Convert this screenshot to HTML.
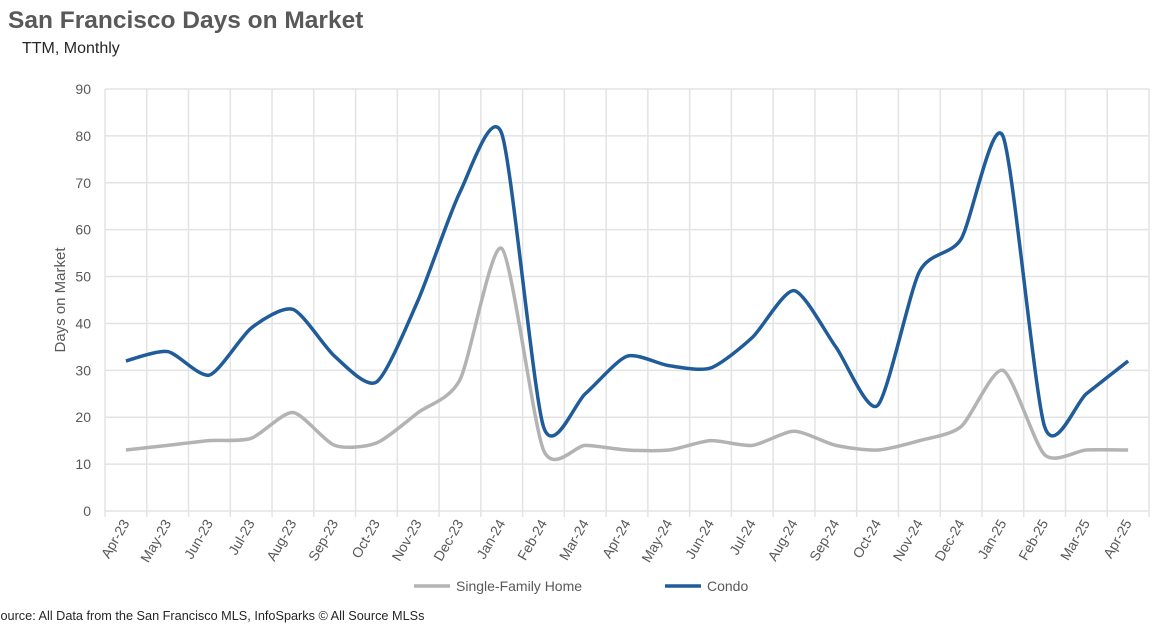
<!DOCTYPE html>
<html><head><meta charset="utf-8"><style>
body{margin:0;background:#fff;width:1170px;height:630px;overflow:hidden;font-family:"Liberation Sans",sans-serif}
</style></head><body>
<svg width="1170" height="630" viewBox="0 0 1170 630">
<text x="8" y="28" font-size="24.5" font-weight="bold" fill="#595959">San Francisco Days on Market</text>
<text x="22" y="53" font-size="16" fill="#262626">TTM, Monthly</text>
<g id="grid"></g>
<g id="yt"></g>
<g id="xt"></g>
<text transform="translate(65,300) rotate(-90)" text-anchor="middle" font-size="15" fill="#595959">Days on Market</text>
<g id="series"></g>
<g>
<g><line x1="414" y1="586" x2="450" y2="586" stroke="#b3b3b3" stroke-width="3.5"/><text x="456" y="591" font-size="14" fill="#595959">Single-Family Home</text></g>
<g><line x1="665" y1="586" x2="701" y2="586" stroke="#1f5c99" stroke-width="3.5"/><text x="707" y="591" font-size="14" fill="#595959">Condo</text></g>
</g>
<text x="-8" y="620" font-size="12.7" fill="#262626">Source: All Data from the San Francisco MLS, InfoSparks © All Source MLSs</text>
</svg>
<script>
const categories=["Apr-23","May-23","Jun-23","Jul-23","Aug-23","Sep-23","Oct-23","Nov-23","Dec-23","Jan-24","Feb-24","Mar-24","Apr-24","May-24","Jun-24","Jul-24","Aug-24","Sep-24","Oct-24","Nov-24","Dec-24","Jan-25","Feb-25","Mar-25","Apr-25"];
const condo=[32,34,29,39,43,33,27.5,45,68,80.5,18,25,33,31,30.5,37,47,35,22.5,51,58,80,18,25,32];
const sfh=[13,14,15,15.5,21,14,14.5,21,28,56,13,14,13,13,15,14,17,14,13,15,18,30,12,13,13];
const yTicks=[0,10,20,30,40,50,60,70,80,90];
const L=105,R=1149,T=89,B=511,ymax=90;
const step=(R-L)/categories.length;
const xs=i=>L+step*(i+0.5);
const ys=v=>B-(v/ymax)*(B-T);
const NS="http://www.w3.org/2000/svg";
function mk(tag,attrs,parent){const e=document.createElementNS(NS,tag);for(const k in attrs)e.setAttribute(k,attrs[k]);parent.appendChild(e);return e;}
const grid=document.getElementById('grid'),yt=document.getElementById('yt'),xt=document.getElementById('xt'),ser=document.getElementById('series');
yTicks.forEach(v=>{
  const l=mk('line',{x1:L,x2:R,y1:ys(v),y2:ys(v),stroke:'#e3e3e3','stroke-width':1.5},grid);
  
  
  const t=mk('text',{x:L-14,y:ys(v)+5,'text-anchor':'end','font-size':14,fill:'#595959'},yt);
  
  
  t.textContent=v;
});
for(let i=0;i<=categories.length;i++){
  const l=mk('line',{x1:L+step*i,x2:L+step*i,y1:T,y2:B+6,stroke:'#e3e3e3','stroke-width':1.5},grid);
  
  
}
categories.forEach((c,i)=>{
  const x=xs(i)+4,y=B+12;
  const t=mk('text',{x:x,y:y,'text-anchor':'end','font-size':14,fill:'#595959',transform:`rotate(-60 ${x} ${y})`},xt);
  
  
  t.textContent=c;
});
function path(vals){
  const p=vals.map((v,i)=>[xs(i),ys(v)]);
  let d=`M${p[0][0]},${p[0][1]}`;
  const k=0.12;
  for(let i=0;i<p.length-1;i++){
    const p0=p[Math.max(0,i-1)],p1=p[i],p2=p[i+1],p3=p[Math.min(p.length-1,i+2)];
    const c1=[p1[0]+(p2[0]-p0[0])*k,p1[1]+(p2[1]-p0[1])*k];
    const c2=[p2[0]-(p3[0]-p1[0])*k,p2[1]-(p3[1]-p1[1])*k];
    d+=` C${c1[0]},${c1[1]} ${c2[0]},${c2[1]} ${p2[0]},${p2[1]}`;
  }
  return d;
}
const s1=mk('path',{d:path(sfh),fill:'none',stroke:'#b3b3b3','stroke-width':3.5,'stroke-linejoin':'round'},ser);


const s2=mk('path',{d:path(condo),fill:'none',stroke:'#1f5c99','stroke-width':3.5,'stroke-linejoin':'round'},ser);


</script>
</body></html>
